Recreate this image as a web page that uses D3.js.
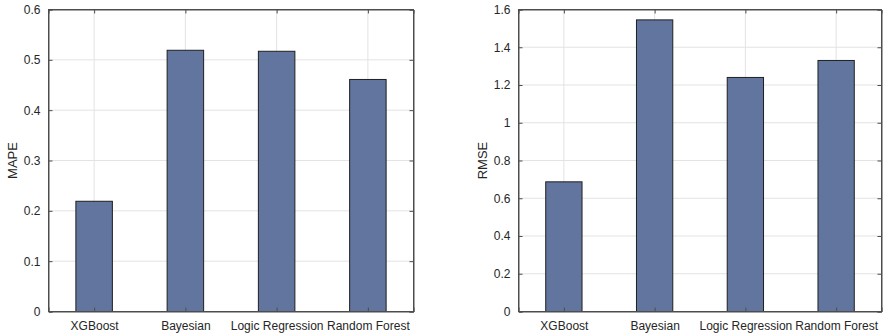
<!DOCTYPE html>
<html>
<head>
<meta charset="utf-8">
<script src="https://cdn.jsdelivr.net/npm/d3@7"></script>
<style>
  body { margin: 0; background: #fff; }
  svg { display: block; font-family: "Liberation Sans", Arial, sans-serif; }
</style>
</head>
<body>
<div id="chart"></div>
<script>
// data
const models = ["XGBoost", "Bayesian", "Logic Regression", "Random Forest"];
const mapeValues = [0.219, 0.519, 0.517, 0.461];
const rmseValues = [0.687, 1.545, 1.24, 1.33];
const mapeTicks = [0, 0.1, 0.2, 0.3, 0.4, 0.5, 0.6];
const rmseTicks = [0, 0.2, 0.4, 0.6, 0.8, 1, 1.2, 1.4, 1.6];

const width = 883, height = 336;
const svg = d3.select("#chart").append("svg")
  .attr("width", width)
  .attr("height", height);

function panel(opts) {
  const { left, right, top, bottom, values, ticks, yMax, label, labelX } = opts;
  const g = svg.append("g");

  // categories sit at 1..4, xlim [0.5, 4.5]
  const x = d3.scaleLinear().domain([0.5, 4.5]).range([left, right]);
  const y = d3.scaleLinear().domain([0, yMax]).range([bottom, top]);

  // grid
  g.append("g").selectAll("line.gy")
    .data(ticks.slice(1, -1))
    .join("line")
    .attr("x1", left).attr("x2", right)
    .attr("y1", d => y(d)).attr("y2", d => y(d))
    .attr("stroke", "#e3e3e3").attr("stroke-width", 1);
  g.append("g").selectAll("line.gx")
    .data(models)
    .join("line")
    .attr("x1", (d, i) => x(i + 1)).attr("x2", (d, i) => x(i + 1))
    .attr("y1", top).attr("y2", bottom)
    .attr("stroke", "#e3e3e3").attr("stroke-width", 1);

  // bars
  const bw = (x(2) - x(1)) * 0.4;
  g.append("g").selectAll("rect")
    .data(values)
    .join("rect")
    .attr("x", (d, i) => x(i + 1) - bw / 2)
    .attr("y", d => y(d))
    .attr("width", bw)
    .attr("height", d => y(0) - y(d))
    .attr("fill", "#62759f")
    .attr("stroke", "#1f1f1f")
    .attr("stroke-width", 1);

  // axes, ticks pointing inward
  const yAxis = d3.axisLeft(y).tickValues(ticks).tickSize(-4).tickPadding(8)
    .tickFormat(d => d3.format("")(+d.toFixed(1)));
  const ya = g.append("g").attr("transform", `translate(${left},0)`).call(yAxis);
  const yr = g.append("g").attr("transform", `translate(${right},0)`)
    .call(d3.axisRight(y).tickValues(ticks).tickSize(-4).tickFormat(""));
  const xAxis = d3.axisBottom(x).tickValues([1, 2, 3, 4]).tickSize(-4).tickPadding(10)
    .tickFormat(d => models[d - 1]);
  const xa = g.append("g").attr("transform", `translate(0,${bottom})`).call(xAxis);
  const xt = g.append("g").attr("transform", `translate(0,${top})`)
    .call(d3.axisTop(x).tickValues([1, 2, 3, 4]).tickSize(-4).tickFormat(""));

  [ya, yr, xa, xt].forEach(a => {
    a.select(".domain").attr("stroke", "#4d4d4d");
    a.selectAll(".tick line").attr("stroke", "#4d4d4d");
    a.selectAll("text").attr("fill", "#262626").style("font-size", "12px")
      .style("font-family", "'Liberation Sans', Arial, sans-serif");
  });

  // box outline
  g.append("rect")
    .attr("x", left).attr("y", top)
    .attr("width", right - left).attr("height", bottom - top)
    .attr("fill", "none").attr("stroke", "#4d4d4d").attr("stroke-width", 1);

  g.append("text")
    .attr("transform", `translate(${labelX},${(top + bottom) / 2}) rotate(-90)`)
    .attr("text-anchor", "middle")
    .attr("fill", "#262626")
    .style("font-size", "13px")
    .text(label);
}

panel({ left: 48.5, right: 413.5, top: 9.5, bottom: 311.5, values: mapeValues,
        ticks: mapeTicks, yMax: 0.6, label: "MAPE", labelX: 17 });
panel({ left: 518.5, right: 881.5, top: 9.5, bottom: 311.5, values: rmseValues,
        ticks: rmseTicks, yMax: 1.6, label: "RMSE", labelX: 487 });
</script>
</body>
</html>
